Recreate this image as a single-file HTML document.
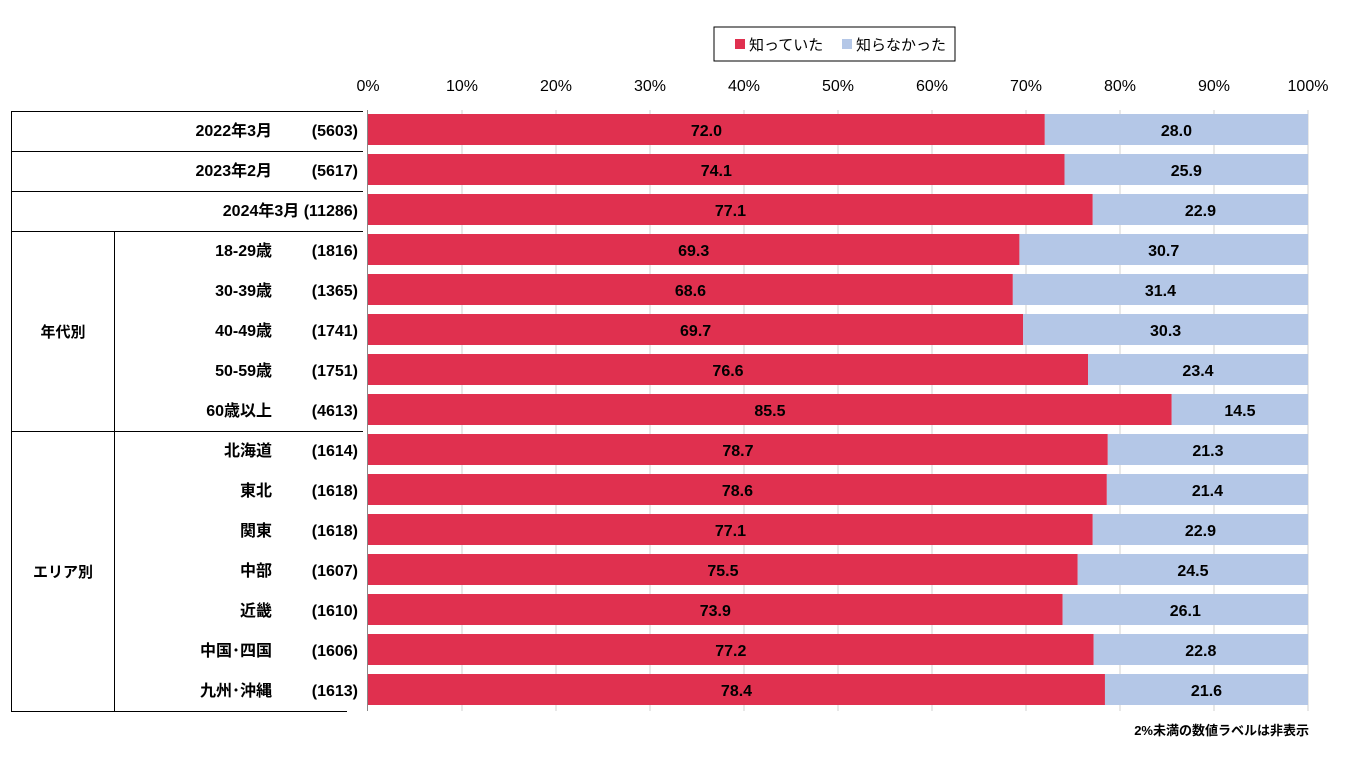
<!DOCTYPE html>
<html><head><meta charset="utf-8"><style>
body{margin:0;background:#fff;}
svg text{font-family:"Liberation Sans","Noto Sans CJK JP",sans-serif;}
.r{fill:#E0304F}.b{fill:#B4C7E7}
</style></head><body>
<svg width="1360" height="755" xmlns="http://www.w3.org/2000/svg">
<rect x="714" y="27" width="241" height="34" fill="#fff" stroke="#000" stroke-width="1"/>
<rect x="735" y="39" width="10" height="10" fill="#E0304F"/>
<text x="749" y="50" font-size="15">知っていた</text>
<rect x="842" y="39" width="10" height="10" fill="#B4C7E7"/>
<text x="856" y="50" font-size="15">知らなかった</text>
<g font-size="16" text-anchor="middle" fill="#000">
<text x="368" y="91">0%</text><text x="462" y="91">10%</text><text x="556" y="91">20%</text><text x="650" y="91">30%</text><text x="744" y="91">40%</text><text x="838" y="91">50%</text><text x="932" y="91">60%</text><text x="1026" y="91">70%</text><text x="1120" y="91">80%</text><text x="1214" y="91">90%</text><text x="1308" y="91">100%</text>
</g>
<g stroke="#d0d0d0" stroke-width="1">
<line x1="462" y1="110" x2="462" y2="711"/><line x1="556" y1="110" x2="556" y2="711"/><line x1="650" y1="110" x2="650" y2="711"/><line x1="744" y1="110" x2="744" y2="711"/><line x1="838" y1="110" x2="838" y2="711"/><line x1="932" y1="110" x2="932" y2="711"/><line x1="1026" y1="110" x2="1026" y2="711"/><line x1="1120" y1="110" x2="1120" y2="711"/><line x1="1214" y1="110" x2="1214" y2="711"/><line x1="1308" y1="110" x2="1308" y2="711"/>
</g>
<line x1="367.5" y1="110" x2="367.5" y2="711" stroke="#888"/>
<g font-size="16" font-weight="bold" text-anchor="middle">
<g transform="translate(0,114)"><rect class="r" x="368" width="676.8" height="31"/><rect class="b" x="1044.8" width="263.2" height="31"/><text x="706.4" y="22">72.0</text><text x="1176.4" y="22">28.0</text><text x="272" y="22" text-anchor="end">2022年3月</text><text x="358" y="22" text-anchor="end">(5603)</text></g>
<g transform="translate(0,154)"><rect class="r" x="368" width="696.54" height="31"/><rect class="b" x="1064.54" width="243.46" height="31"/><text x="716.3" y="22">74.1</text><text x="1186.3" y="22">25.9</text><text x="272" y="22" text-anchor="end">2023年2月</text><text x="358" y="22" text-anchor="end">(5617)</text></g>
<g transform="translate(0,194)"><rect class="r" x="368" width="724.74" height="31"/><rect class="b" x="1092.74" width="215.26" height="31"/><text x="730.4" y="22">77.1</text><text x="1200.4" y="22">22.9</text><text x="358" y="22" text-anchor="end">2024年3月 (11286)</text></g>
<g transform="translate(0,234)"><rect class="r" x="368" width="651.42" height="31"/><rect class="b" x="1019.42" width="288.58" height="31"/><text x="693.7" y="22">69.3</text><text x="1163.7" y="22">30.7</text><text x="272" y="22" text-anchor="end">18-29歳</text><text x="358" y="22" text-anchor="end">(1816)</text></g>
<g transform="translate(0,274)"><rect class="r" x="368" width="644.84" height="31"/><rect class="b" x="1012.84" width="295.16" height="31"/><text x="690.4" y="22">68.6</text><text x="1160.4" y="22">31.4</text><text x="272" y="22" text-anchor="end">30-39歳</text><text x="358" y="22" text-anchor="end">(1365)</text></g>
<g transform="translate(0,314)"><rect class="r" x="368" width="655.18" height="31"/><rect class="b" x="1023.18" width="284.82" height="31"/><text x="695.6" y="22">69.7</text><text x="1165.6" y="22">30.3</text><text x="272" y="22" text-anchor="end">40-49歳</text><text x="358" y="22" text-anchor="end">(1741)</text></g>
<g transform="translate(0,354)"><rect class="r" x="368" width="720.04" height="31"/><rect class="b" x="1088.04" width="219.96" height="31"/><text x="728" y="22">76.6</text><text x="1198" y="22">23.4</text><text x="272" y="22" text-anchor="end">50-59歳</text><text x="358" y="22" text-anchor="end">(1751)</text></g>
<g transform="translate(0,394)"><rect class="r" x="368" width="803.7" height="31"/><rect class="b" x="1171.7" width="136.3" height="31"/><text x="769.9" y="22">85.5</text><text x="1239.9" y="22">14.5</text><text x="272" y="22" text-anchor="end">60歳以上</text><text x="358" y="22" text-anchor="end">(4613)</text></g>
<g transform="translate(0,434)"><rect class="r" x="368" width="739.78" height="31"/><rect class="b" x="1107.78" width="200.22" height="31"/><text x="737.9" y="22">78.7</text><text x="1207.9" y="22">21.3</text><text x="272" y="22" text-anchor="end">北海道</text><text x="358" y="22" text-anchor="end">(1614)</text></g>
<g transform="translate(0,474)"><rect class="r" x="368" width="738.84" height="31"/><rect class="b" x="1106.84" width="201.16" height="31"/><text x="737.4" y="22">78.6</text><text x="1207.4" y="22">21.4</text><text x="272" y="22" text-anchor="end">東北</text><text x="358" y="22" text-anchor="end">(1618)</text></g>
<g transform="translate(0,514)"><rect class="r" x="368" width="724.74" height="31"/><rect class="b" x="1092.74" width="215.26" height="31"/><text x="730.4" y="22">77.1</text><text x="1200.4" y="22">22.9</text><text x="272" y="22" text-anchor="end">関東</text><text x="358" y="22" text-anchor="end">(1618)</text></g>
<g transform="translate(0,554)"><rect class="r" x="368" width="709.7" height="31"/><rect class="b" x="1077.7" width="230.3" height="31"/><text x="722.9" y="22">75.5</text><text x="1192.9" y="22">24.5</text><text x="272" y="22" text-anchor="end">中部</text><text x="358" y="22" text-anchor="end">(1607)</text></g>
<g transform="translate(0,594)"><rect class="r" x="368" width="694.66" height="31"/><rect class="b" x="1062.66" width="245.34" height="31"/><text x="715.3" y="22">73.9</text><text x="1185.3" y="22">26.1</text><text x="272" y="22" text-anchor="end">近畿</text><text x="358" y="22" text-anchor="end">(1610)</text></g>
<g transform="translate(0,634)"><rect class="r" x="368" width="725.68" height="31"/><rect class="b" x="1093.68" width="214.32" height="31"/><text x="730.8" y="22">77.2</text><text x="1200.8" y="22">22.8</text><text x="272" y="22" text-anchor="end">中国･四国</text><text x="358" y="22" text-anchor="end">(1606)</text></g>
<g transform="translate(0,674)"><rect class="r" x="368" width="736.96" height="31"/><rect class="b" x="1104.96" width="203.04" height="31"/><text x="736.5" y="22">78.4</text><text x="1206.5" y="22">21.6</text><text x="272" y="22" text-anchor="end">九州･沖縄</text><text x="358" y="22" text-anchor="end">(1613)</text></g>
</g>
<g stroke="#000" stroke-width="1">
<line x1="11" y1="111.5" x2="363" y2="111.5"/>
<line x1="11" y1="151.5" x2="363" y2="151.5"/>
<line x1="11" y1="191.5" x2="363" y2="191.5"/>
<line x1="11" y1="231.5" x2="363" y2="231.5"/>
<line x1="11" y1="431.5" x2="363" y2="431.5"/>
<line x1="11" y1="711.5" x2="347" y2="711.5"/>
<line x1="11.5" y1="111" x2="11.5" y2="712"/>
<line x1="114.5" y1="231" x2="114.5" y2="712"/>
</g>
<g font-size="15" font-weight="bold" text-anchor="middle">
<text x="63" y="337">年代別</text>
<text x="63" y="577">エリア別</text>
</g>
<text x="1309" y="735" font-size="13" font-weight="bold" text-anchor="end">2%未満の数値ラベルは非表示</text>
</svg>
</body></html>
